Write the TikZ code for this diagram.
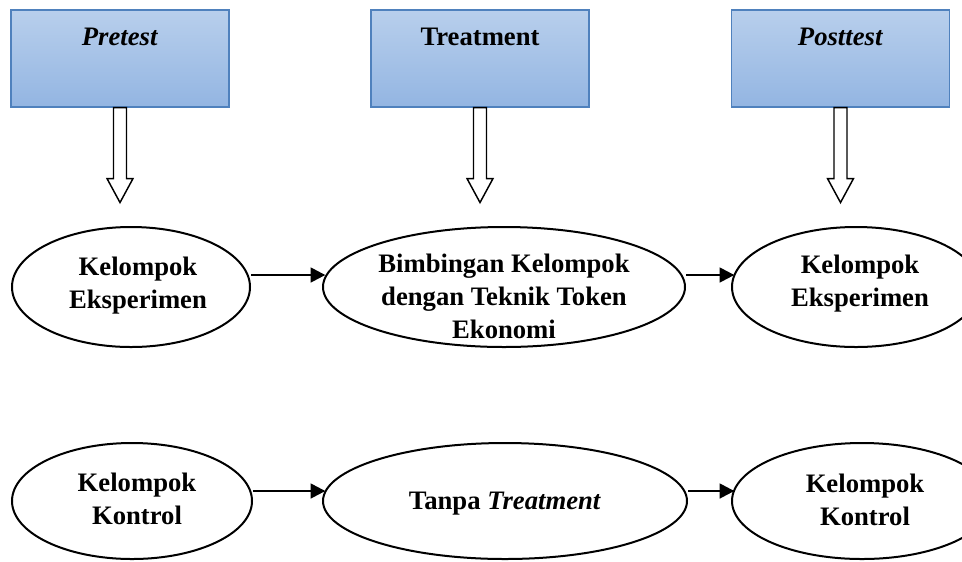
\documentclass[tikz,border=0pt]{standalone}
\usepackage{fontspec}
\setmainfont{Liberation Serif}
\usetikzlibrary{shapes.geometric,arrows.meta}
\definecolor{boxtop}{RGB}{184,207,236}
\definecolor{boxbot}{RGB}{147,181,226}
\definecolor{boxline}{RGB}{79,129,189}
\tikzset{
  stage/.style={draw=boxline, line width=0.8pt, top color=boxtop, bottom color=boxbot,
    minimum width=163.5pt, minimum height=72.75pt, inner sep=0pt},
  group/.style={ellipse, draw, line width=1.5pt, inner sep=0pt},
  txt/.style={font=\bfseries\fontsize{20}{24.75}\selectfont, align=center, inner sep=0pt},
  flow/.style={-{Triangle[length=11pt,width=11pt]}, line width=1.8pt, shorten >=-2.5pt},
  hollow/.style={draw, line width=1.1pt, fill=white, line join=miter}
}
\begin{document}
\begin{tikzpicture}[x=0.75pt, y=-0.75pt]
\useasboundingbox (0,0) rectangle (962,561);
\clip (0,0) rectangle (962,561);
% stages
\node[stage] (pre) at (120,58.5) {};
\node[stage] (treat) at (480,58.5) {};
\node[stage] (post) at (840.5,58.5) {};
\node[txt, anchor=base] (pretxt) at ([yshift=-27pt]pre.north) {\textit{Pretest}};
\node[txt, anchor=base] (treattxt) at ([yshift=-27pt]treat.north) {Treatment};
\node[txt, anchor=base] (posttxt) at ([yshift=-27pt]post.north) {\textit{Posttest}};
% hollow arrows
\foreach \b in {pre,treat,post}
  \draw[hollow] (\b.south) ++(-6.5,0) -- ++(0,71) -- ++(-6.5,0) -- ++(13,24)
    -- ++(13,-24) -- ++(-6.5,0) -- ++(0,-71) -- cycle;
% eksperimen row
\node[group, minimum width=178.5pt, minimum height=90pt] (eks1) at (131,287) {};
\node[group, minimum width=271.5pt, minimum height=90pt] (eks2) at (504,287) {};
\node[group, minimum width=186pt, minimum height=90pt] (eks3) at (856,287) {};
\node[txt] (eks1txt) at (138,286) {Kelompok\\Eksperimen};
\node[txt] (eks2txt) at (504,296) {Bimbingan Kelompok\\dengan Teknik Token\\Ekonomi};
\node[txt] (eks3txt) at (860,284) {Kelompok\\Eksperimen};
% kontrol row
\node[group, minimum width=180pt, minimum height=87pt] (kon1) at (132,501) {};
\node[group, minimum width=273pt, minimum height=87pt] (kon2) at (505,501) {};
\node[group, minimum width=195pt, minimum height=87pt] (kon3) at (862,501) {};
\node[txt] (kon1txt) at (137,499) {Kelompok\\Kontrol};
\node[txt] (kon2txt) at (505,504) {Tanpa \textit{Treatment}};
\node[txt] (kon3txt) at (865,500) {Kelompok\\Kontrol};
% flows
\draw[flow] ([yshift=9pt]eks1.east) -- ([yshift=9pt]eks2.west);
\draw[flow] ([yshift=9pt]eks2.east) -- ([yshift=9pt]eks3.west);
\draw[flow] ([yshift=7.5pt]kon1.east) -- ([yshift=7.5pt]kon2.west);
\draw[flow] ([yshift=7.5pt]kon2.east) -- ([yshift=7.5pt]kon3.west);
\end{tikzpicture}
\end{document}
